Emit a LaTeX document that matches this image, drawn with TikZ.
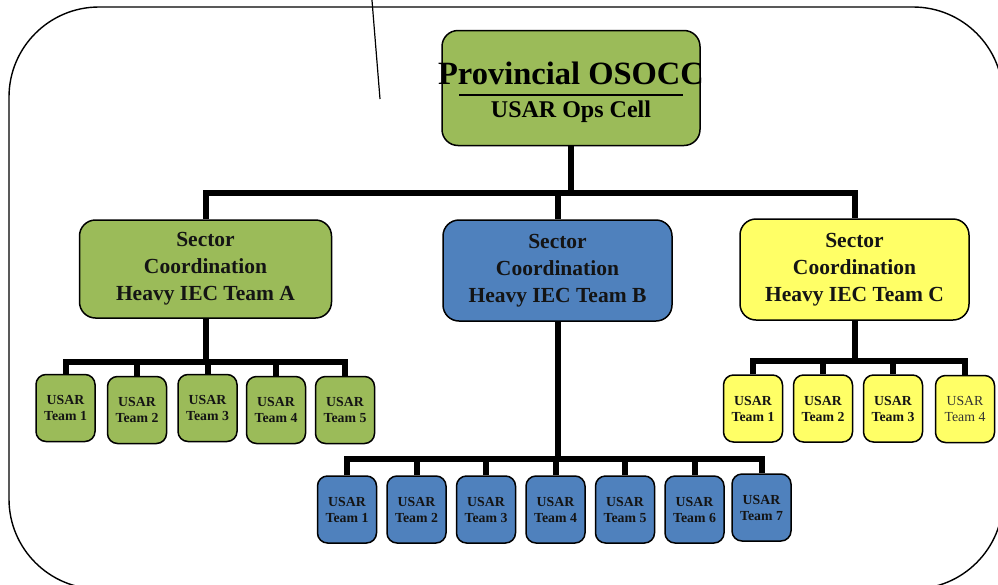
\documentclass[tikz,border=0pt]{standalone}
\usepackage{fontspec}
\setmainfont{Liberation Serif}
\usetikzlibrary{calc}
\definecolor{ogreen}{HTML}{9BBB59}
\definecolor{oblue}{HTML}{4F81BD}
\definecolor{oyellow}{HTML}{FFFF66}
\definecolor{otext}{HTML}{141414}
\begin{document}
\begin{tikzpicture}[x=1pt,y=-1pt,
  conn/.style={line width=6pt,line join=miter,black},
  boxbase/.style={draw=black,line width=1.5pt,inner sep=0pt,align=center,text=otext},
  topbox/.style={boxbase,rounded corners=16pt,minimum width=258pt,minimum height=115pt,fill=ogreen},
  secbox/.style={boxbase,rounded corners=16pt,minimum width=252pt,minimum height=98pt,
     font=\fontsize{21.5}{27}\selectfont\bfseries},
  teambox/.style={boxbase,rounded corners=10pt,minimum width=59pt,minimum height=67pt,
     font=\fontsize{13.8}{16}\selectfont\bfseries},
  frame/.style={draw=black,line width=1.4pt,rounded corners=90pt}]
\useasboundingbox (0,0) rectangle (998,584);
\clip (0,0) rectangle (998,584);
\fill[white] (0,0) rectangle (998,584);
% outer frame
\coordinate (fTL) at (9,7);
\coordinate (fBR) at (1003,589);
\draw[frame] (fTL) rectangle (fBR);
% slanted line
\coordinate (sA) at (371.8,-2);
\coordinate (sB) at (380,99);
\draw[line width=1.2pt] (sA) -- (sB);

% top box
\node[topbox] (top) at (571,88) {};
\node[anchor=base,font=\fontsize{32.5}{32}\selectfont\bfseries] (t1) at (571,84) {Provincial OSOCC};
\node[anchor=base,font=\fontsize{24}{24}\selectfont\bfseries] (t2) at (571,117) {USAR Ops Cell};
\coordinate (rL) at (459,95);
\coordinate (rR) at (683,95);
\draw[line width=1.5pt] (rL) -- (rR);

% sector boxes
\node[secbox,fill=ogreen] (secA) at (205.5,269) {Sector\\Coordination\\Heavy IEC Team A};
\node[secbox,fill=oblue,minimum width=229pt,minimum height=101pt] (secB) at (557.5,270.5) {Sector\\Coordination\\Heavy IEC Team B};
\node[secbox,fill=oyellow,minimum width=229pt,minimum height=101pt] (secC) at (854.5,269.5) {Sector\\Coordination\\Heavy IEC Team C};

% green teams
\node[teambox,fill=ogreen] (g1) at (65.5,408) {USAR\\Team 1};
\node[teambox,fill=ogreen] (g2) at (137,410) {USAR\\Team 2};
\node[teambox,fill=ogreen] (g3) at (207.5,408) {USAR\\Team 3};
\node[teambox,fill=ogreen] (g4) at (276,410) {USAR\\Team 4};
\node[teambox,fill=ogreen] (g5) at (345,410) {USAR\\Team 5};

% yellow teams
\node[teambox,fill=oyellow] (y1) at (753,408.5) {USAR\\Team 1};
\node[teambox,fill=oyellow] (y2) at (823,408.5) {USAR\\Team 2};
\node[teambox,fill=oyellow] (y3) at (893,408.5) {USAR\\Team 3};
\node[teambox,fill=oyellow,font=\fontsize{13.8}{16}\selectfont,text=black!80] (y4) at (965,409) {USAR\\Team 4};

% blue teams
\node[teambox,fill=oblue] (b1) at (347,509.5) {USAR\\Team 1};
\node[teambox,fill=oblue] (b2) at (416.5,509.5) {USAR\\Team 2};
\node[teambox,fill=oblue] (b3) at (486,509.5) {USAR\\Team 3};
\node[teambox,fill=oblue] (b4) at (555.5,509.5) {USAR\\Team 4};
\node[teambox,fill=oblue] (b5) at (625,509.5) {USAR\\Team 5};
\node[teambox,fill=oblue] (b6) at (694.5,509.5) {USAR\\Team 6};
\node[teambox,fill=oblue] (b7) at (761.5,507.5) {USAR\\Team 7};

% main bus
\coordinate (mb) at (571,193);
\draw[conn] (top.south) -- (mb);
\draw[conn] (secA.north) -- (secA.north |- mb) -- (secC.north |- mb) -- (secC.north);
\draw[conn] (secB.north |- mb) -- (secB.north);

% green bus
\coordinate (gb) at (205,362);
\draw[conn] (secA.south) -- (secA.south |- gb);
\draw[conn] (g1.north) -- (g1.north |- gb) -- (g5.north |- gb) -- (g5.north);
\foreach \n in {g2,g3,g4} \draw[conn] (\n.north |- gb) -- (\n.north);

% yellow bus
\coordinate (yb) at (854,361);
\draw[conn] (secC.south) -- (secC.south |- yb);
\draw[conn] (y1.north) -- (y1.north |- yb) -- (y4.north |- yb) -- (y4.north);
\foreach \n in {y2,y3} \draw[conn] (\n.north |- yb) -- (\n.north);

% blue bus
\coordinate (bb) at (557,459);
\draw[conn] (secB.south) -- (secB.south |- bb);
\draw[conn] (b1.north) -- (b1.north |- bb) -- (b7.north |- bb) -- (b7.north);
\foreach \n in {b2,b3,b4,b5,b6} \draw[conn] (\n.north |- bb) -- (\n.north);
\end{tikzpicture}
\end{document}
